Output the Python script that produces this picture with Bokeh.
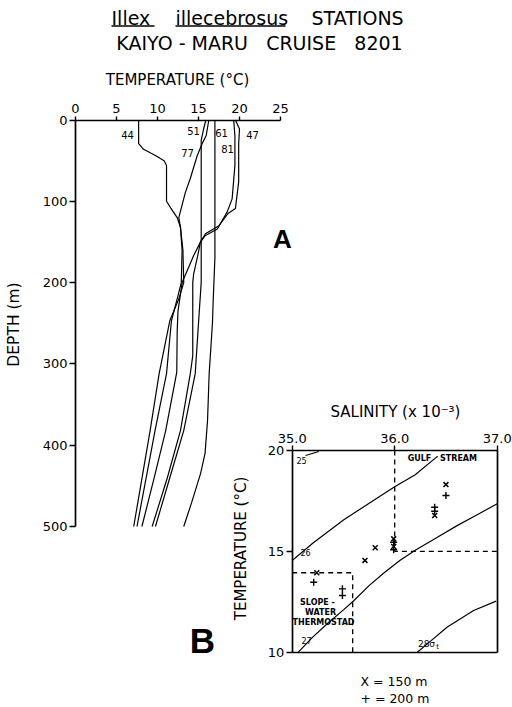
import math
from bokeh.plotting import figure
from bokeh.models import Range1d, LinearAxis, FixedTicker, PrintfTickFormatter
from bokeh.core.properties import value
from bokeh.embed import file_html
from bokeh.resources import INLINE

# ---------------- data ----------------
# Panel A: temperature (deg C) profiles vs depth (m), Kaiyo-Maru stations
st44_t = [7.7, 7.7, 8.3, 9.8, 10.8, 11.1, 11.1, 11.6, 12.4, 12.8, 13.1, 13.2, 12.6, 11.5, 10.2, 9.1, 7.1]
st44_d = [0, 29, 36, 44, 50, 56, 100, 108, 120, 132, 160, 200, 220, 247, 312, 382, 500]
st77_t = [16.26, 15.94, 15.45, 14.84, 14.0, 13.4, 12.6, 12.8, 13.0, 12.9, 12.4, 11.7, 11.1, 9.7, 7.5]
st77_d = [0, 19, 29, 44, 72, 89, 120, 132, 160, 200, 220, 247, 312, 382, 500]
st51_t = [15.9, 15.6, 15.33, 15.33, 15.0, 14.6, 13.2, 11.5, 9.75]
st51_d = [0, 12, 25, 200, 250, 312, 382, 440, 500]
st61_t = [17.0, 17.0, 16.8, 16.7, 16.3, 16.1, 15.8, 15.25, 14.15, 13.2]
st61_d = [0, 170, 220, 250, 312, 370, 410, 435, 471, 500]
st47_t = [19.5, 20.0, 19.9, 19.9, 19.5, 18.6, 17.5, 15.85, 15.24, 14.9, 14.4, 14.3, 14.3, 14.0, 12.8, 11.2, 9.35]
st47_d = [0, 11, 29, 76, 109, 115, 130, 140, 150, 167, 190, 200, 290, 312, 382, 440, 500]
st81_t = [19.3, 19.44, 19.44, 19.1, 18.5, 17.3, 15.85, 15.24, 14.4, 13.0, 12.5, 12.4, 12.35, 11.0, 9.6, 8.1]
st81_d = [0, 20, 56, 97, 113, 134, 142, 150, 167, 200, 235, 260, 310, 382, 440, 500]
station_names = ["44", "51", "61", "47", "77", "81"]

temp_ticks = [0, 5, 10, 15, 20, 25]
depth_ticks = [0, 100, 200, 300, 400, 500]

# Panel B: T-S diagram
sal_ticks = [35.0, 36.0, 37.0]
tb_ticks = [10, 15, 20]
x150_s = [36.50, 36.39, 35.99, 35.99, 35.81, 35.71, 35.24]
x150_t = [18.31, 16.78, 15.62, 15.24, 15.18, 14.55, 13.94]
p200_s = [36.50, 36.39, 36.39, 35.99, 35.99, 35.21, 35.49, 35.49]
p200_t = [17.77, 17.19, 16.99, 15.45, 15.08, 13.47, 13.14, 12.81]
# sigma-t isopycnals
sig25_s = [35.13, 35.26]
sig25_t = [19.75, 19.95]
sig26_s = [35.0, 35.2, 35.5, 35.8, 36.0, 36.2, 36.42]
sig26_t = [14.55, 15.4, 16.55, 17.55, 18.2, 18.8, 19.72]
sig27_s = [35.06, 35.2, 35.35, 35.5, 35.6, 35.75, 35.9, 36.05, 36.2, 36.4, 36.6, 36.8, 37.0]
sig27_t = [10.0, 10.75, 11.45, 12.1, 12.55, 13.3, 13.95, 14.55, 15.05, 15.65, 16.25, 16.8, 17.36]
sig28_s = [36.22, 36.35, 36.51, 36.77, 36.99]
sig28_t = [10.0, 10.55, 11.24, 12.07, 12.53]
# water-mass boundaries (dashed)
gulf_s = [36.0, 36.0, 37.0]
gulf_t = [20.0, 15.0, 15.0]
slope_s = [35.0, 35.59, 35.59]
slope_t = [13.94, 13.94, 10.0]

# ---------------- figure ----------------
FONT = value("DejaVu Sans")
PW, PH = 512, 707
p = figure(width=PW, height=PH, x_range=Range1d(0, PW), y_range=Range1d(PH, 0),
           x_axis_type=None, y_axis_type=None, toolbar_location=None,
           output_backend="svg", min_border=0, outline_line_color=None)
p.min_border_left = p.min_border_right = p.min_border_top = p.min_border_bottom = 0

# scale calibration for the two panels (page pixel coordinates)
A_X0, A_XS = 75.0, 8.2
A_Y0, A_YS = 119.5, 0.813
B_X0, B_XS = 291.7, 102.5
B_Y0, B_YS = 450.0, 20.17
p.extra_x_ranges["tA"] = Range1d((0 - A_X0) / A_XS, (PW - A_X0) / A_XS)
p.extra_y_ranges["dA"] = Range1d((PH - A_Y0) / A_YS, (0 - A_Y0) / A_YS)
p.extra_x_ranges["sB"] = Range1d(35 + (0 - B_X0) / B_XS, 35 + (PW - B_X0) / B_XS)
p.extra_y_ranges["tB"] = Range1d(20 - (PH - B_Y0) / B_YS, 20 - (0 - B_Y0) / B_YS)


def add_axis(side, xr, yr, loc, bounds, ticks, tick_out=5, standoff=3, fmt=None, show_labels=True):
    ax = LinearAxis(x_range_name=xr, y_range_name=yr, fixed_location=loc, bounds=bounds,
                    ticker=FixedTicker(ticks=ticks, minor_ticks=[]))
    ax.axis_line_width = 1.7
    ax.axis_line_color = "black"
    ax.major_tick_line_width = 1.4
    ax.major_tick_out = tick_out
    ax.major_tick_in = 0
    ax.minor_tick_out = 0
    ax.minor_tick_in = 0
    ax.major_label_standoff = standoff
    ax.major_label_text_font = "DejaVu Sans"
    ax.major_label_text_font_size = "13px" if show_labels else "0px"
    ax.major_label_text_color = "black"
    if fmt is not None:
        ax.formatter = fmt
    p.add_layout(ax, side)
    return ax


add_axis("above", "tA", "dA", 0, (0, 25), temp_ticks, tick_out=4, standoff=3)
add_axis("left", "tA", "dA", 0, (0, 500), depth_ticks, tick_out=6, standoff=2)
add_axis("above", "sB", "tB", 20, (35, 37), sal_ticks, tick_out=5, standoff=3,
         fmt=PrintfTickFormatter(format="%.1f"))
add_axis("left", "sB", "tB", 35, (10, 20), tb_ticks, tick_out=6, standoff=2)
add_axis("right", "sB", "tB", 37, (10, 20), [], tick_out=0, show_labels=False)
add_axis("below", "sB", "tB", 10, (35, 37), [], tick_out=0, show_labels=False)

# Panel A profiles
for t, d in [(st44_t, st44_d), (st77_t, st77_d), (st51_t, st51_d),
             (st61_t, st61_d), (st47_t, st47_d), (st81_t, st81_d)]:
    p.line(t, d, x_range_name="tA", y_range_name="dA", line_color="black", line_width=1.2)

# Panel B isopycnals and boundaries
for s, t in [(sig25_s, sig25_t), (sig26_s, sig26_t), (sig27_s, sig27_t), (sig28_s, sig28_t)]:
    p.line(s, t, x_range_name="sB", y_range_name="tB", line_color="black", line_width=1.2)
for s, t in [(gulf_s, gulf_t), (slope_s, slope_t)]:
    p.line(s, t, x_range_name="sB", y_range_name="tB", line_color="black", line_width=1.3,
           line_dash="5 4")
p.scatter(x150_s, x150_t, x_range_name="sB", y_range_name="tB", marker="x", size=7,
          line_color="black", line_width=1.5)
p.scatter(p200_s, p200_t, x_range_name="sB", y_range_name="tB", marker="cross", size=7,
          line_color="black", line_width=1.4)


def txt(x, y, s, size, align="center", angle=0.0, style="normal", font=FONT, baseline="middle"):
    p.text(x=[x], y=[y], text=[s], text_font=font, text_font_size=size, text_align=align,
           text_baseline=baseline, angle=angle, text_font_style=style, text_color="black")


NB = "\u00a0"
# Title
txt(111, 17, "Illex", "19px", align="left")
txt(175, 17, "illecebrosus", "19px", align="left")
txt(311, 17, "STATIONS", "19px", align="left")
p.segment(x0=[111, 175], y0=[25.5, 25.5], x1=[154, 285], y1=[25.5, 25.5], line_color="black", line_width=1.3)
txt(259, 42, "KAIYO" + NB + "-" + NB + "MARU" + NB * 3 + "CRUISE" + NB * 3 + "8201", "19px")

# Panel A labels
txt(177, 79, "TEMPERATURE (°C)", "15px")
txt(13, 324, "DEPTH (m)", "15.5px", angle=math.pi / 2)
for name, (x, y) in zip(station_names, [(127, 134), (193, 130), (221, 132), (252, 134), (187, 152), (227, 148)]):
    txt(x, y, name, "10px")
txt(282, 238, "A", "26px", style="bold", font=value("Liberation Sans"))

# Panel B labels
txt(395, 411, "SALINITY (x 10⁻³)", "15px")
txt(240, 548, "TEMPERATURE (°C)", "15px", angle=math.pi / 2)
txt(202, 640, "B", "35px", style="bold", font=value("Liberation Sans"))
txt(301, 460, "25", "8px")
txt(305, 552, "26", "8px")
txt(306, 640, "27", "8px")
txt(426, 643, "28σ", "9px")
txt(437, 646, "t", "7px")
txt(419, 458, "GULF", "8px", style="bold")
txt(458, 458, "STREAM", "8px", style="bold")
txt(317, 602, "SLOPE -", "8px", style="bold")
txt(320, 612, "WATER", "8px", style="bold")
txt(323, 622, "THERMOSTAD", "8px", style="bold")
txt(360, 681, "X = 150 m", "12.5px", align="left")
txt(360, 698, "+ = 200 m", "12.5px", align="left")

open("out.html", "w").write(file_html(p, INLINE))
